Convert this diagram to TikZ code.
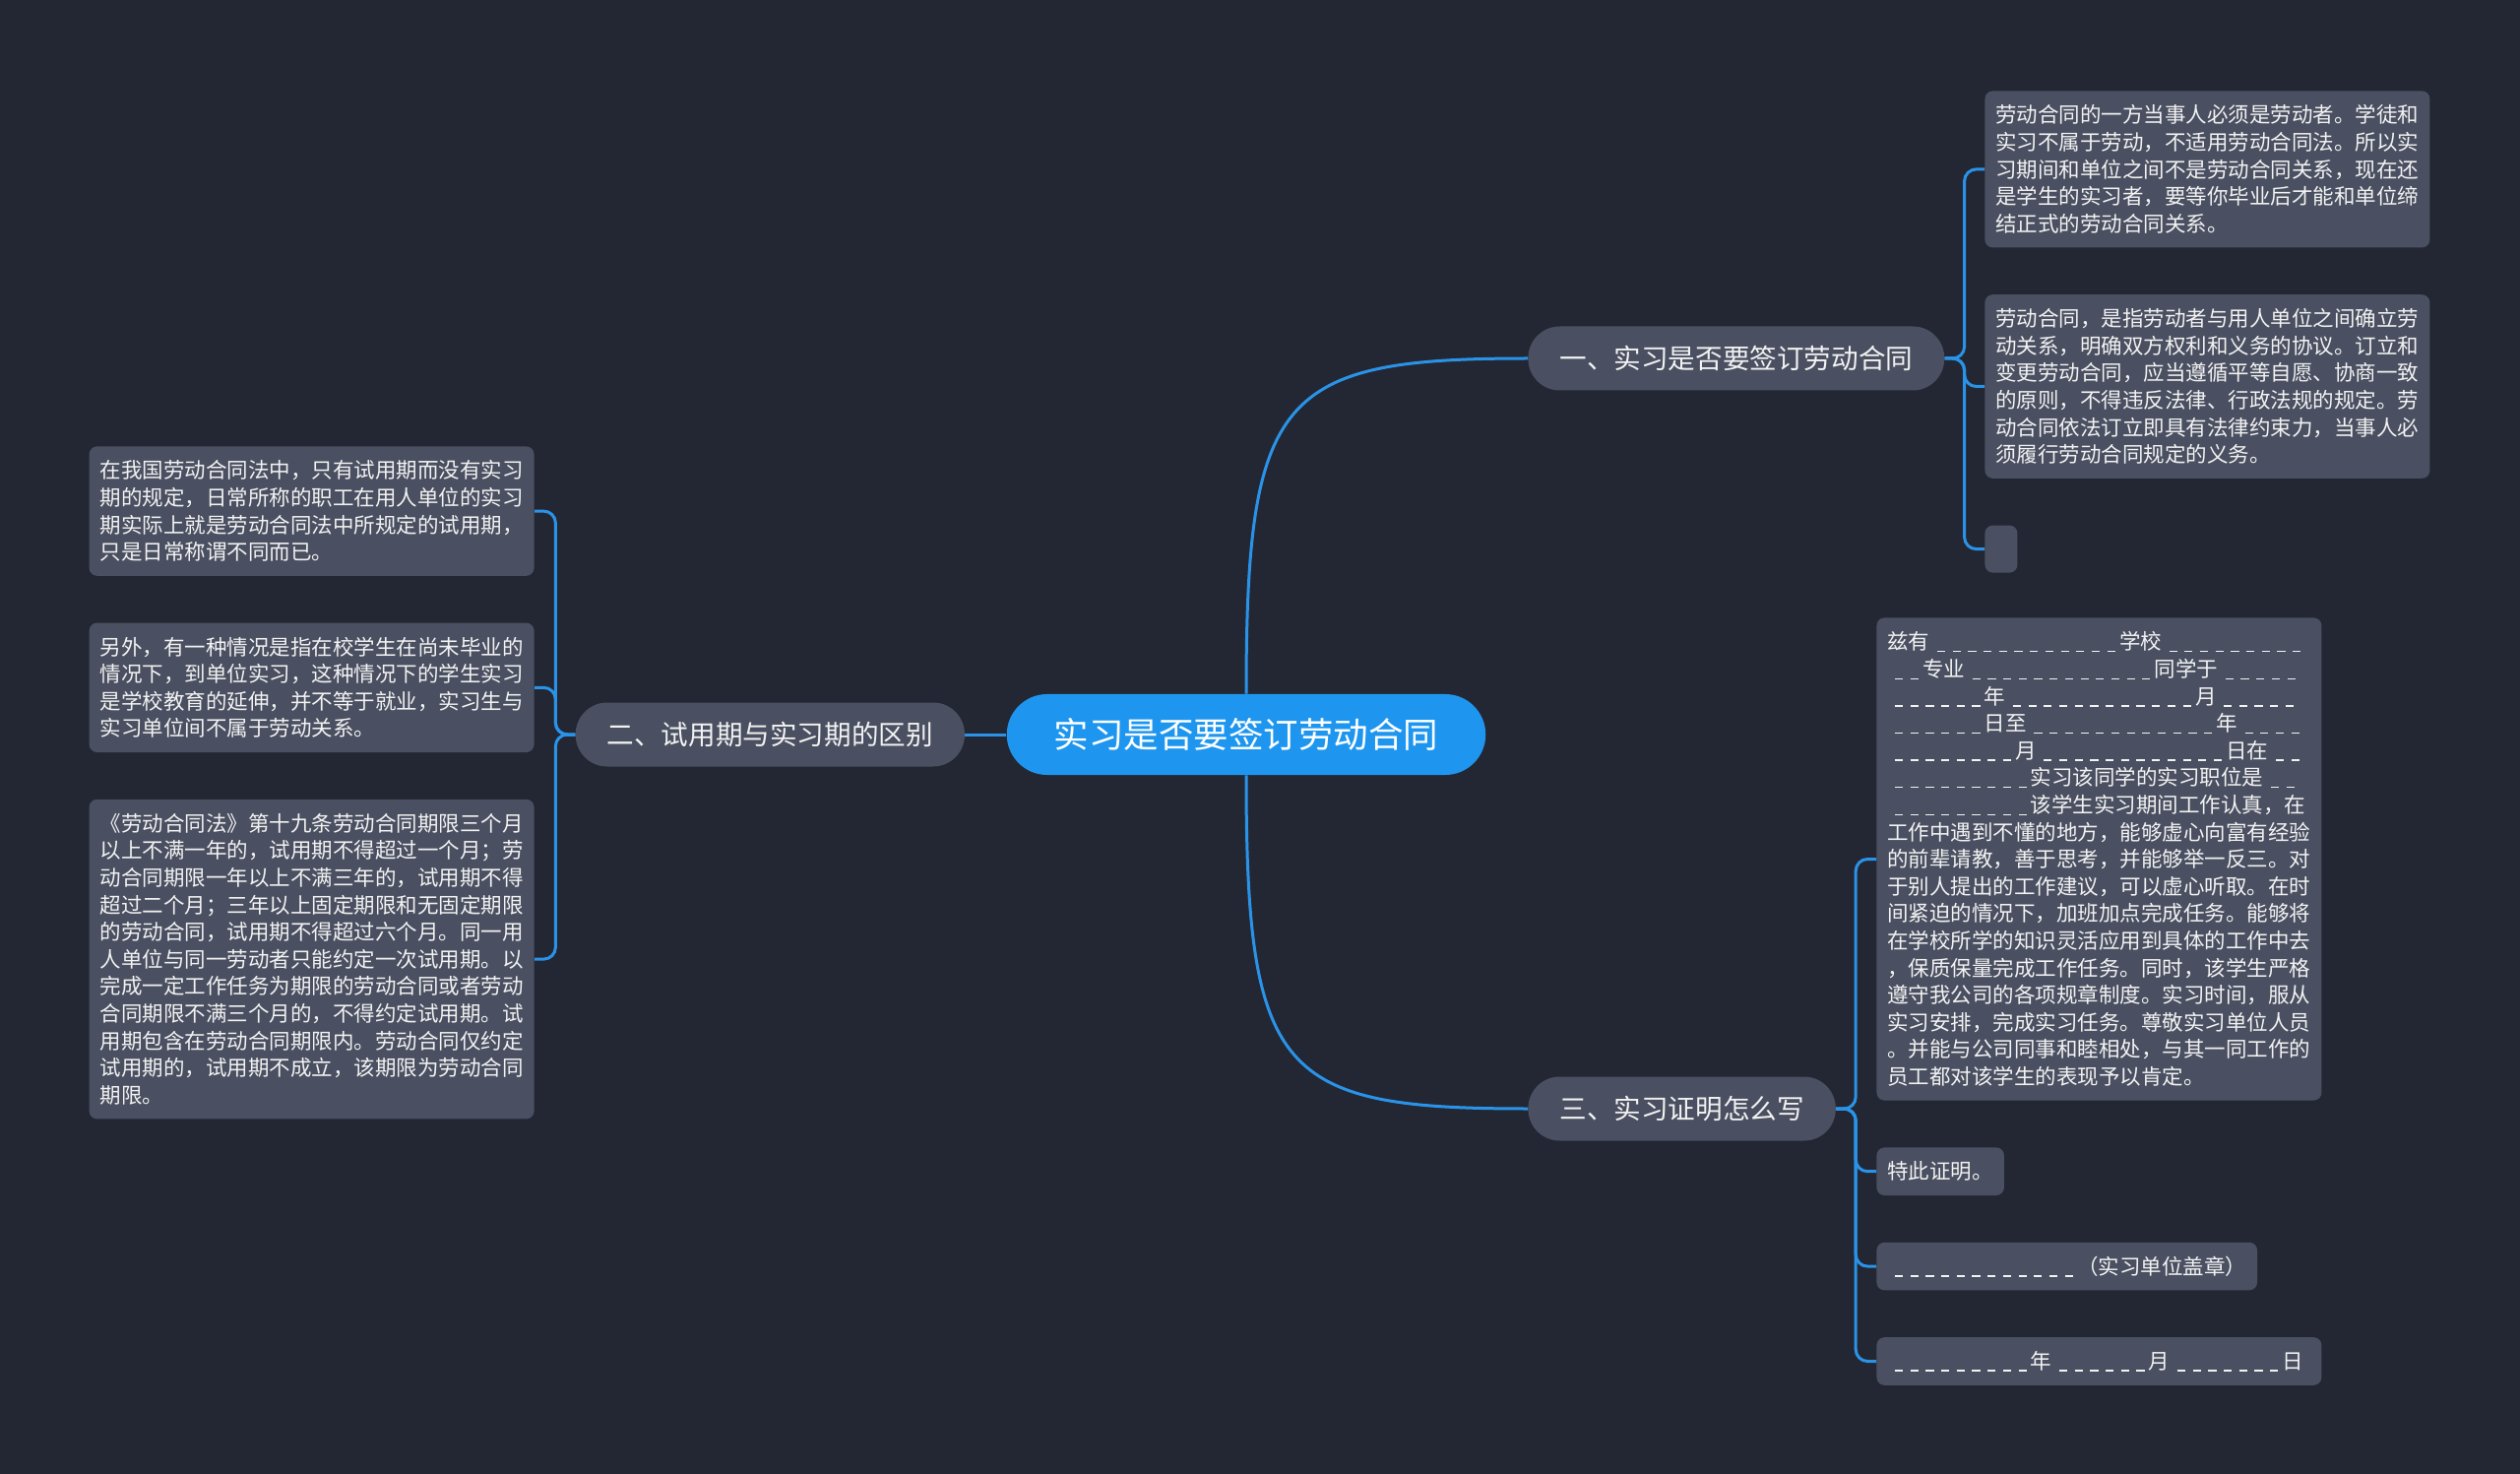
\documentclass[tikz,border=0pt]{standalone}
\usepackage{fontspec}
\newfontfamily\cjk{Noto Sans CJK SC}
\usetikzlibrary{positioning,calc}
\definecolor{bgcol}{HTML}{232733}
\definecolor{boxcol}{HTML}{4A5061}
\definecolor{rootcol}{HTML}{1E96EF}
\definecolor{linkcol}{HTML}{2A93E8}
\definecolor{txtcol}{HTML}{F2F2F2}
\tikzset{
  root/.style  ={fill=rootcol,rounded corners=20.5pt,text=white,
                 font=\cjk\fontsize{17.75}{21}\selectfont,
                 inner xsep=24pt,minimum height=41pt},
  branch/.style={fill=boxcol,rounded corners=16pt,text=txtcol,
                 font=\cjk\fontsize{13.8}{16}\selectfont,
                 inner xsep=16pt,minimum height=32.5pt},
  leaf/.style  ={fill=boxcol,rounded corners=4pt,text=txtcol,align=left,
                 font=\cjk\fontsize{10.75}{13.8}\selectfont,
                 inner xsep=5.5pt,inner ysep=5pt},
  nlines/.style={minimum height=#1*13.8pt+10.5pt},
  link/.style  ={draw=linkcol,line width=1.5pt},
  stem/.style  ={link,rounded corners=6pt},
}
% fill-in blanks of the certificate
\newcommand{\bl}[1]{\foreach\nd in {1,...,#1}{\hspace{0.35em}\rule[-0.12em]{0.38em}{0.07em}}\hspace{0.2em}}

\begin{document}
\begin{tikzpicture}[x=0.5pt,y=-0.5pt,node distance=23.5pt]
\useasboundingbox (0,0) rectangle (2560,1497);
\fill[bgcol] (0,0) rectangle (2560,1497);

% centre
\node[root] (root) at (1266,746) {实习是否要签订劳动合同};

% ---- branches --------------------------------------------------------
\node[branch,anchor=west] (b1) at (1552,364) {一、实习是否要签订劳动合同};
\node[branch,left=21pt of root] (b2) {二、试用期与实习期的区别};
\node[branch,anchor=west] (b3) at (1552,1126) {三、实习证明怎么写};

% ---- branch 1 (right, top) -------------------------------------------
\node[leaf,nlines=5,anchor=north west] (l1a) at (2016,92) {劳动合同的一方当事人必须是劳动者。学徒和\\
  实习不属于劳动，不适用劳动合同法。所以实\\
  习期间和单位之间不是劳动合同关系，现在还\\
  是学生的实习者，要等你毕业后才能和单位缔\\
  结正式的劳动合同关系。};
\node[leaf,nlines=6,below=of l1a.south west,anchor=north west] (l1b) {劳动合同，是指劳动者与用人单位之间确立劳\\
  动关系，明确双方权利和义务的协议。订立和\\
  变更劳动合同，应当遵循平等自愿、协商一致\\
  的原则，不得违反法律、行政法规的规定。劳\\
  动合同依法订立即具有法律约束力，当事人必\\
  须履行劳动合同规定的义务。};
\node[leaf,minimum width=16.5pt,minimum height=24pt,below=of l1b.south west,anchor=north west] (l1c) {};

% ---- branch 2 (left) -------------------------------------------------
\node[leaf,nlines=4,anchor=north east] (l2a) at (543,453) {在我国劳动合同法中，只有试用期而没有实习\\
  期的规定，日常所称的职工在用人单位的实习\\
  期实际上就是劳动合同法中所规定的试用期，\\
  只是日常称谓不同而已。};
\node[leaf,nlines=4,below=of l2a.south east,anchor=north east] (l2b) {另外，有一种情况是指在校学生在尚未毕业的\\
  情况下，到单位实习，这种情况下的学生实习\\
  是学校教育的延伸，并不等于就业，实习生与\\
  实习单位间不属于劳动关系。};
\node[leaf,nlines=11,below=of l2b.south east,anchor=north east] (l2c) {《劳动合同法》第十九条劳动合同期限三个月\\
  以上不满一年的，试用期不得超过一个月；劳\\
  动合同期限一年以上不满三年的，试用期不得\\
  超过二个月；三年以上固定期限和无固定期限\\
  的劳动合同，试用期不得超过六个月。同一用\\
  人单位与同一劳动者只能约定一次试用期。以\\
  完成一定工作任务为期限的劳动合同或者劳动\\
  合同期限不满三个月的，不得约定试用期。试\\
  用期包含在劳动合同期限内。劳动合同仅约定\\
  试用期的，试用期不成立，该期限为劳动合同\\
  期限。};

% ---- branch 3 (right, bottom) ----------------------------------------
\node[leaf,nlines=17,anchor=north west] (l3a) at (1906,627) {兹有\bl{12}学校\bl{9}\\
  \bl{2}专业\bl{12}同学于\bl{5}\\
  \bl{6}年\bl{12}月\bl{5}\\
  \bl{6}日至\bl{12}年\bl{4}\\
  \bl{8}月\bl{12}日在\bl{2}\\
  \bl{9}实习该同学的实习职位是\bl{2}\\
  \bl{9}该学生实习期间工作认真，在\\
  工作中遇到不懂的地方，能够虚心向富有经验\\
  的前辈请教，善于思考，并能够举一反三。对\\
  于别人提出的工作建议，可以虚心听取。在时\\
  间紧迫的情况下，加班加点完成任务。能够将\\
  在学校所学的知识灵活应用到具体的工作中去\\
  ，保质保量完成工作任务。同时，该学生严格\\
  遵守我公司的各项规章制度。实习时间，服从\\
  实习安排，完成实习任务。尊敬实习单位人员\\
  。并能与公司同事和睦相处，与其一同工作的\\
  员工都对该学生的表现予以肯定。};
\node[leaf,nlines=1,below=of l3a.south west,anchor=north west] (l3b) {特此证明。};
\node[leaf,nlines=1,below=of l3b.south west,anchor=north west] (l3c) {\bl{12}（实习单位盖章）};
\node[leaf,nlines=1,text width=215pt,below=of l3c.south west,anchor=north west] (l3d) {\bl{9}年\bl{6}月\bl{7}日};

% ---- edges ------------------------------------------------------------
\draw[link] (root.north) .. controls +(0,-305) and +(-252,0) .. (b1.west);
\draw[link] (root.south) .. controls +(0,305) and +(-252,0) .. (b3.west);
\draw[link] (root.west) -- (b2.east);

\draw[stem] (b1.east) -- ++(20,0) |- (l1a.west);
\draw[stem] (b1.east) -- ++(20,0) |- (l1b.west);
\draw[stem] (b1.east) -- ++(20,0) |- (l1c.west);

\draw[stem] (b2.west) -- ++(-20,0) |- (l2a.east);
\draw[stem] (b2.west) -- ++(-20,0) |- (l2b.east);
\draw[stem] (b2.west) -- ++(-20,0) |- (l2c.east);

\draw[stem] (b3.east) -- ++(20,0) |- (l3a.west);
\draw[stem] (b3.east) -- ++(20,0) |- (l3b.west);
\draw[stem] (b3.east) -- ++(20,0) |- (l3c.west);
\draw[stem] (b3.east) -- ++(20,0) |- (l3d.west);
\end{tikzpicture}
\end{document}
